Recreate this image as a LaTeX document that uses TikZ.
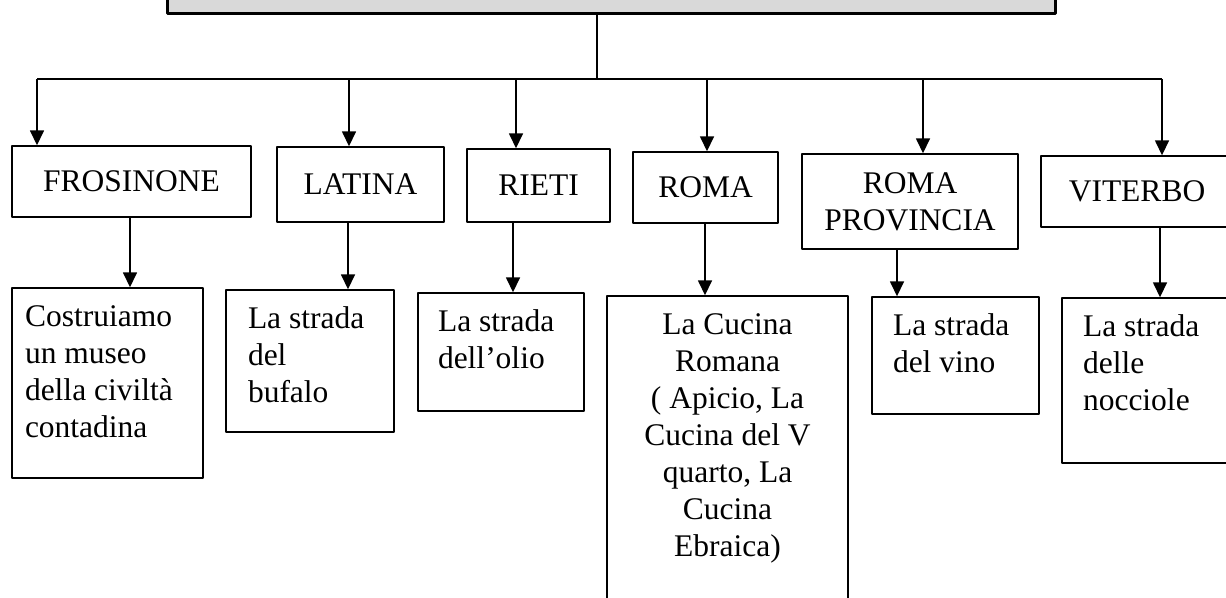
\documentclass[tikz,border=0pt]{standalone}
\usepackage{fontspec}
\setmainfont{Liberation Serif}
\usetikzlibrary{arrows.meta}
% text box with lines starting at the top
\newcommand{\toplines}[4]{\parbox[c][#1][t]{#2}{#3\vspace*{13bp}\strut#4}}

\begin{document}
\begin{tikzpicture}[>={Triangle[length=15bp,width=14bp]},line join=bevel,
  every node/.style={font=\fontsize{31.5bp}{37bp}\selectfont},
  region/.style={draw,line width=1.4bp,inner sep=0pt,align=center},
  leaf/.style={draw,line width=1.4bp,inner ysep=0pt},
  wire/.style={line width=1.6bp}]
  \useasboundingbox (0,0) rectangle (1226bp,598bp);
%%
  % Node: title
  \node[draw,line width=3bp,fill=black!15,minimum width=888bp,minimum height=60bp] (title) at (611bp,614bp) {};
  % Node: frosinone
  \node[region,minimum width=239bp,minimum height=71bp] (frosinone) at (131.5bp,416.5bp) {FROSINONE};
  % Node: latina
  \node[region,minimum width=167bp,minimum height=75bp] (latina) at (360.5bp,413.5bp) {LATINA};
  % Node: rieti
  \node[region,minimum width=143bp,minimum height=73bp] (rieti) at (538.5bp,412.5bp) {RIETI};
  % Node: roma
  \node[region,minimum width=145bp,minimum height=71bp] (roma) at (705.5bp,410.5bp) {ROMA};
  % Node: romaprov
  \node[region,minimum width=216bp,minimum height=95bp] (romaprov) at (910bp,396.5bp) {ROMA\\PROVINCIA};
  % Node: viterbo
  \node[region,minimum width=192bp,minimum height=71bp] (viterbo) at (1137bp,406.5bp) {VITERBO};
  % Node: museo
  \node[leaf,inner xsep=13bp] (museo) at (107.5bp,215bp)
    {\toplines{190bp}{165bp}{\raggedright}{Costruiamo\\un museo\\della civiltà\\contadina}};
  % Node: bufalo
  \node[leaf,inner xsep=22bp] (bufalo) at (310bp,237bp)
    {\toplines{142bp}{124bp}{\raggedright}{La strada\\del\\bufalo}};
  % Node: olio
  \node[leaf,inner xsep=20bp] (olio) at (501bp,246bp)
    {\toplines{118bp}{126bp}{\raggedright}{La strada\\dell’olio}};
  % Node: cucina
  \node[leaf,inner xsep=0pt] (cucina) at (727.5bp,130bp)
    {\toplines{344bp}{241bp}{\centering}{La Cucina\\Romana\\( Apicio, La\\Cucina del V\\quarto, La\\Cucina\\Ebraica)}};
  % Node: vino
  \node[leaf,inner xsep=21bp] (vino) at (955.5bp,242.5bp)
    {\toplines{117bp}{125bp}{\raggedright}{La strada\\del vino}};
  % Node: nocciole
  \node[leaf,inner xsep=21bp] (nocciole) at (1156bp,217.5bp)
    {\toplines{165bp}{146bp}{\raggedright}{La strada\\delle\\nocciole}};
%%
  \coordinate (busL) at (37bp,519bp);
  \coordinate (busR) at (1162bp,519bp);
  % Edge: title -> bus
  \draw[wire] (title.south -| 597bp,0) -- (597bp,0 |- busL);
  \draw[wire] (busL) -- (busR);
  % Edge: bus -> frosinone
  \draw[wire,->] (busL) -- (busL |- frosinone.north);
  % Edge: bus -> latina
  \draw[wire,->] (349bp,0 |- busL) -- (349bp,0 |- latina.north);
  % Edge: bus -> rieti
  \draw[wire,->] (516bp,0 |- busL) -- (516bp,0 |- rieti.north);
  % Edge: bus -> roma
  \draw[wire,->] (707bp,0 |- busL) -- (707bp,0 |- roma.north);
  % Edge: bus -> romaprov
  \draw[wire,->] (923bp,0 |- busL) -- (923bp,0 |- romaprov.north);
  % Edge: bus -> viterbo
  \draw[wire,->] (busR) -- (busR |- viterbo.north);
  % Edge: frosinone -> museo
  \draw[wire,->] (frosinone.south -| 130bp,0) -- (museo.north -| 130bp,0);
  % Edge: latina -> bufalo
  \draw[wire,->] (latina.south -| 348bp,0) -- (bufalo.north -| 348bp,0);
  % Edge: rieti -> olio
  \draw[wire,->] (rieti.south -| 513bp,0) -- (olio.north -| 513bp,0);
  % Edge: roma -> cucina
  \draw[wire,->] (roma.south -| 705bp,0) -- (cucina.north -| 705bp,0);
  % Edge: romaprov -> vino
  \draw[wire,->] (romaprov.south -| 897bp,0) -- (vino.north -| 897bp,0);
  % Edge: viterbo -> nocciole
  \draw[wire,->] (viterbo.south -| 1160bp,0) -- (nocciole.north -| 1160bp,0);
%
\end{tikzpicture}
\end{document}
